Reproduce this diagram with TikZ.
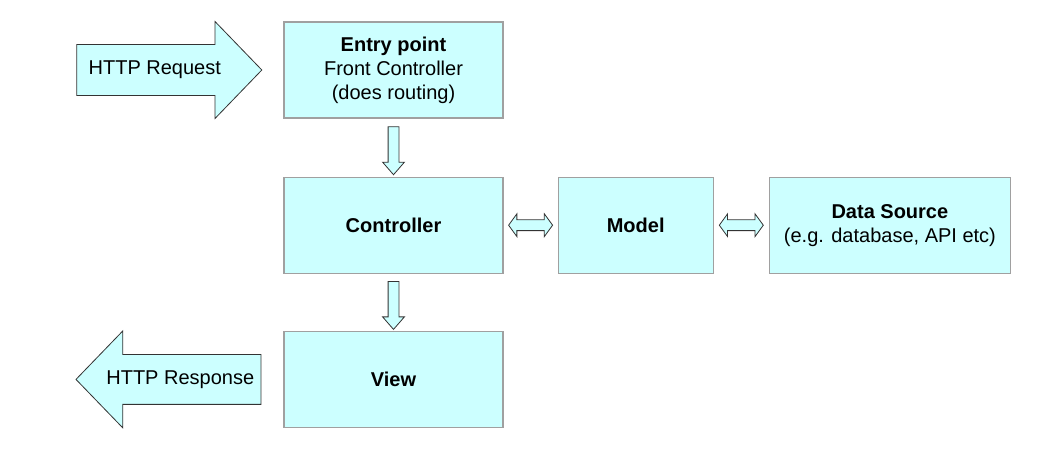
\documentclass[tikz,border=0pt]{standalone}
\usepackage{fontspec}
\setmainfont{Liberation Sans}
\usepackage{tikz}
\usetikzlibrary{positioning,shapes.arrows,calc}
\definecolor{boxfill}{HTML}{CCFFFF}
\definecolor{boxline}{HTML}{A0A0A0}
\definecolor{arrowline}{HTML}{333333}

\begin{document}
\begin{tikzpicture}[x=1pt, y=1pt,
			font=\fontsize{20}{24}\selectfont,
			block/.style={rectangle, draw=boxline, fill=boxfill, line width=1.2pt, minimum height=96pt, align=center, inner sep=0pt},
			bigarrow/.style={single arrow, draw=arrowline, fill=boxfill, line width=0.8pt, minimum width=97pt, minimum height=185pt, single arrow head extend=23pt, single arrow tip angle=92, inner xsep=0pt, inner ysep=25pt},
			downarrow/.style={single arrow, draw=arrowline, fill=boxfill, line width=0.8pt, minimum width=21pt, minimum height=48pt, single arrow head extend=5.5pt, single arrow tip angle=82, inner xsep=0pt, inner ysep=5pt, rotate=-90},
			sidearrow/.style={double arrow, draw=arrowline, fill=boxfill, line width=0.8pt, minimum width=22pt, minimum height=44pt, double arrow head extend=6pt, double arrow tip angle=108, inner xsep=0pt, inner ysep=5pt},
			arrowtext/.style={inner sep=0pt},
		]
		\useasboundingbox (0,0) rectangle (1056,-450);

		\node[block, minimum width=219pt] (entry) at (393.5,-70)     {\textbf{Entry point}\\Front Controller\\(does routing)};
		\node[block, minimum width=219pt] (ctrl)  [below=58pt of entry] {\textbf{Controller}};
		\node[block, minimum width=219pt] (view)  [below=57pt of ctrl]  {\textbf{View}};
		\node[block, minimum width=155pt] (model) [right=54pt of ctrl]  {\textbf{Model}};
		\node[block, minimum width=241pt] (data)  [right=55pt of model] {\textbf{Data Source}\\(e.g. database, API etc)};

		\node[bigarrow] (req)  [left=21pt of entry] {};
		\node[bigarrow, shape border rotate=180, inner ysep=24pt] (resp) [left=22pt of view] {};
		\node[arrowtext] (reqtext)  [right=12pt of req.tail]  {HTTP Request};
		\node[arrowtext] (resptext) [left=7pt of resp.tail]   {HTTP Response};

		\node[downarrow] (down1) at ($(entry.south)!0.5!(ctrl.north)$) {};
		\node[downarrow] (down2) at ($(ctrl.south)!0.5!(view.north)$)  {};
		\node[sidearrow] (side1) at ($(ctrl.east)!0.5!(model.west)$)   {};
		\node[sidearrow] (side2) at ($(model.east)!0.5!(data.west)$)   {};

		\end{tikzpicture}
\end{document}
